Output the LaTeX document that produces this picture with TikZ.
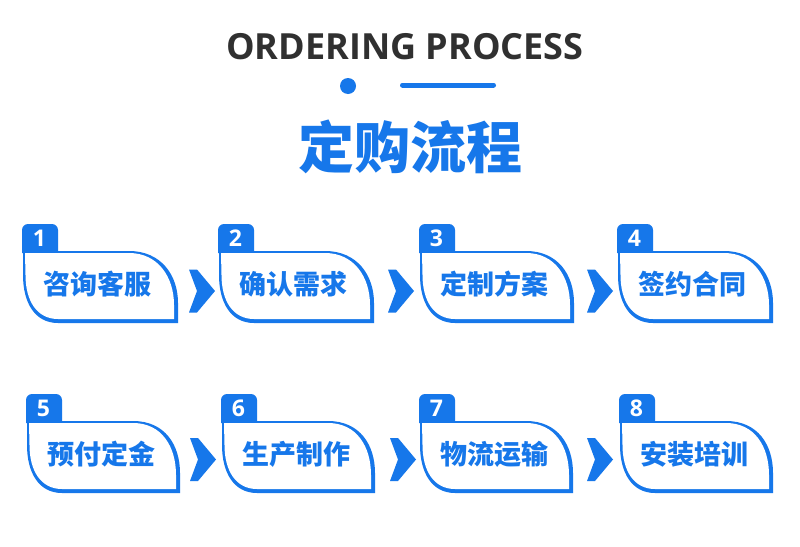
\documentclass[tikz,border=0pt]{standalone}
\usepackage{fontspec}
\setmainfont{Open Sans}
\newfontfamily\cjk{Noto Sans CJK SC}
\definecolor{pblue}{RGB}{22,119,234}
\definecolor{dgray}{RGB}{48,48,48}
\newcommand\stepcard[6]{% L, T, number, text, name, width
  \begin{scope}[shift={(#1,#2)}]
    \fill[pblue, rounded corners=6pt] (-1,2) -- (-1,-27) -- (35,-27) [sharp corners] -- (35,2) -- cycle;
    \fill[pblue] (0,0) -- (106,0) .. controls (138,0) and (#6,24) .. (#6,52) -- (#6,72) -- (35,72) .. controls (12,72) and (0,52) .. (0,24) -- cycle;
    \fill[white] (2,2) -- (106,2) .. controls (135,2) and (#6-4,26) .. (#6-4,54) -- (#6-4,68) -- (35,68) .. controls (14,68) and (2.5,50) .. (2.5,24) -- cycle;
    \node[numtext] (n#5) at (16.5,-12.5) {#3};
    \node[cardtext] (c#5) at (74,33) {#4};
  \end{scope}
}
\newcommand\chevron[2]{%
  \fill[pblue] (#1,#2) ++(0,-21.5) -- ++(8,0) -- ++(18,21.5) -- ++(-18,21.5) -- ++(-8,0) -- ++(8,-21.5) -- cycle;
}
\begin{document}
\begin{tikzpicture}[x=1pt,y=-1pt,
  cardtext/.style={font=\cjk\bfseries\fontsize{27}{27}\selectfont, text=pblue, inner sep=0pt},
  numtext/.style={font=\bfseries\fontsize{23}{23}\selectfont, text=white, inner sep=0pt},
  ]
\useasboundingbox (0,0) rectangle (800,546);
\fill[white] (0,0) rectangle (800,546);
\node[font=\bfseries\fontsize{36}{36}\selectfont, text=dgray, inner sep=0pt] (title) at (405,47) {ORDERING PROCESS};
\node[circle, fill=pblue, minimum size=16pt, inner sep=0pt] (dot) at (348,86) {};
\draw[pblue, line width=5pt, line cap=round] (402.5,85) -- (493.5,85);
\node[font=\cjk\bfseries\fontsize{56}{56}\selectfont, text=pblue, inner sep=0pt] (maintitle) at (410,147) {定购流程};

\stepcard{23}{251}{1}{咨询客服}{1}{155}
\stepcard{219}{251}{2}{确认需求}{2}{155}
\stepcard{420}{251}{3}{定制方案}{3}{154}
\stepcard{618}{251}{4}{签约合同}{4}{155}
\stepcard{27}{421}{5}{预付定金}{5}{153}
\stepcard{222}{421}{6}{生产制作}{6}{153}
\stepcard{420}{421}{7}{物流运输}{7}{153}
\stepcard{620}{421}{8}{安装培训}{8}{153}

\chevron{189}{291}
\chevron{388}{291}
\chevron{587}{291}
\chevron{190}{459.5}
\chevron{390}{459.5}
\chevron{587}{459.5}
\end{tikzpicture}
\end{document}
